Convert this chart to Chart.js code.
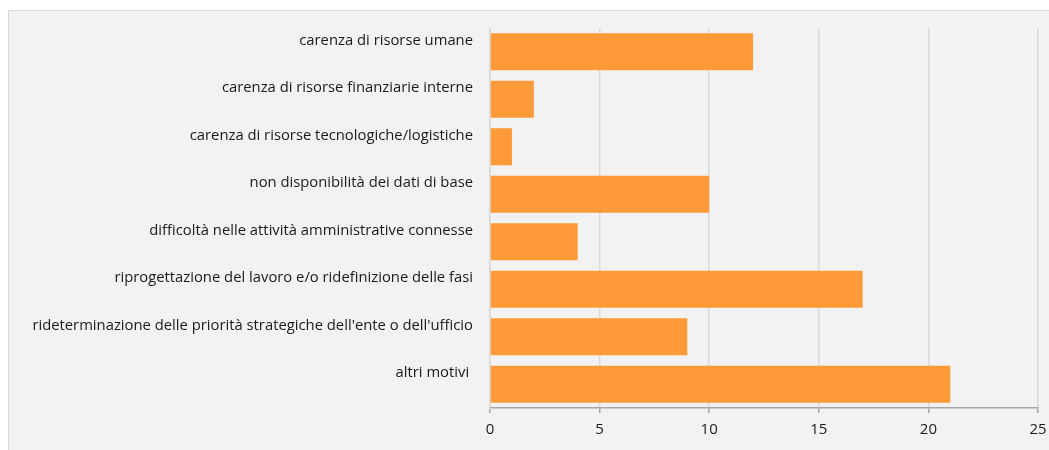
<!DOCTYPE html>
<html>
<head>
<meta charset="utf-8">
<script src="https://cdn.jsdelivr.net/npm/chart.js@4/dist/chart.umd.min.js"></script>
<style>
html, body { margin: 0; padding: 0; background: #ffffff; overflow: hidden; }
#box { position: absolute; left: 8px; top: 10px; width: 1060px; height: 460px; background: #f2f2f2; border: 1px solid #d9d9d9; }
#wrap { position: absolute; left: 0; top: 0; width: 1049px; height: 450px; }
</style>
</head>
<body>
<div id="box"></div>
<div id="wrap"><canvas id="chart"></canvas></div>
<script>
const categories = [
  "carenza di risorse umane",
  "carenza di risorse finanziarie interne",
  "carenza di risorse tecnologiche/logistiche",
  "non disponibilità dei dati di base",
  "difficoltà nelle attività amministrative connesse",
  "riprogettazione del lavoro e/o ridefinizione delle fasi",
  "rideterminazione delle priorità strategiche dell'ente o dell'ufficio",
  "altri motivi "
];
const values = [12, 2, 1, 10, 4, 17, 9, 21];
const xTicks = [0, 5, 10, 15, 20, 25];

const textFont = { family: "'Open Sans', sans-serif", size: 14.8 };

new Chart(document.getElementById("chart"), {
  type: "bar",
  data: {
    labels: categories,
    datasets: [{
      data: values,
      backgroundColor: "#fe9a37",
      barPercentage: 0.78,
      categoryPercentage: 1
    }]
  },
  options: {
    indexAxis: "y",
    responsive: true,
    maintainAspectRatio: false,
    animation: false,
    layout: { padding: { top: 28, right: 11, left: 0, bottom: 0 } },
    plugins: { legend: { display: false }, tooltip: { enabled: false } },
    scales: {
      x: {
        min: 0,
        max: 25,
        afterBuildTicks: s => { s.ticks = xTicks.map(v => ({ value: v })); },
        afterFit: s => { s.height = 42; s.paddingLeft = 0; s.paddingRight = 0; },
        grid: { color: "#d9d9d9", lineWidth: 1.5, tickColor: "#a6a6a6", tickLength: 5 },
        border: { color: "#a6a6a6", width: 1.5 },
        ticks: { color: "#1a1a1a", font: { family: "'Open Sans', sans-serif", size: 15 }, padding: 8 }
      },
      y: {
        afterFit: s => { s.width = 490; s.paddingTop = 0; s.paddingBottom = 0; },
        grid: { display: false, drawTicks: false },
        border: { color: "#d9d9d9", width: 1.5 },
        ticks: { color: "#1a1a1a", font: textFont, padding: 17, labelOffset: -11 }
      }
    }
  }
});
</script>
</body>
</html>
